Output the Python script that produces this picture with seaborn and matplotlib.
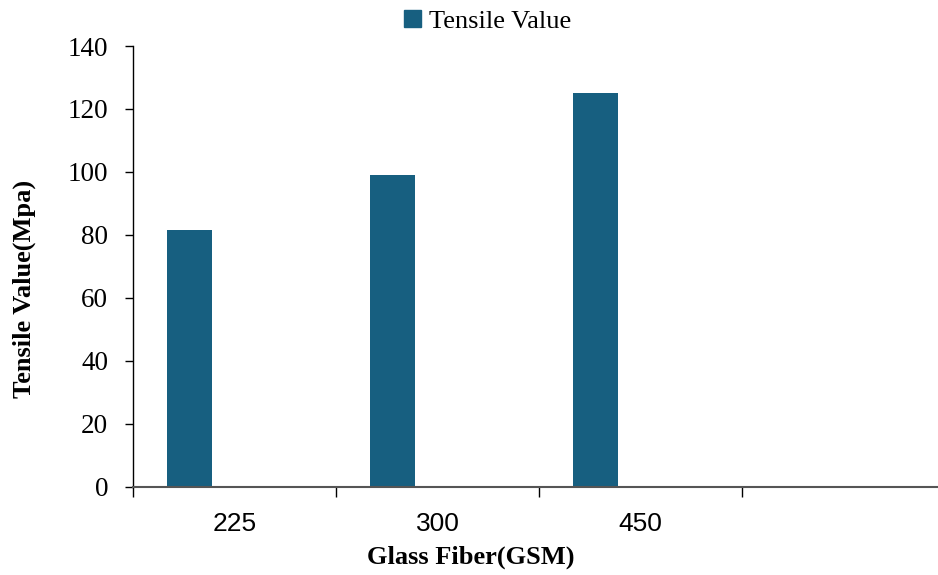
import matplotlib
matplotlib.use("Agg")
import matplotlib.pyplot as plt
import matplotlib.patches as mpatches
from matplotlib.ticker import FixedLocator, NullFormatter
import seaborn as sns
import pandas as pd

# ---- data ----
categories = ["225", "300", "450"]
tensile_values = [81.5, 99.0, 125.0]
series_name = "Tensile Value"
# Excel-style cluster slots: only the first series carries data
series_order = [series_name, "_empty1", "_empty2"]
y_ticks = [0, 20, 40, 60, 80, 100, 120, 140]

bar_color = "#175f80"

sns.set_theme(style="white")
plt.rcParams["font.family"] = ["Liberation Serif", "DejaVu Serif"]
plt.rcParams["text.color"] = "black"
plt.rcParams["axes.labelcolor"] = "black"
plt.rcParams["xtick.color"] = "black"
plt.rcParams["ytick.color"] = "black"

df = pd.DataFrame({
    "Glass Fiber(GSM)": categories,
    "Tensile Value(Mpa)": tensile_values,
    "Series": [series_name] * len(categories),
})

fig = plt.figure(figsize=(9.38, 5.75), dpi=100)
ax = fig.add_axes([0.1421, 0.1536, 0.857, 0.7664])

sns.barplot(
    data=df, x="Glass Fiber(GSM)", y="Tensile Value(Mpa)", hue="Series",
    order=categories, hue_order=series_order,
    palette=[bar_color] * len(series_order), saturation=1,
    width=0.665, dodge=True, gap=0, legend=False, ax=ax, linewidth=0,
    errorbar=None,
)

ax.set_ylim(0, 140)
ax.set_yticks(y_ticks)
ax.set_xlim(-0.5, 3.46)

# spines
for s in ["top", "right"]:
    ax.spines[s].set_visible(False)
ax.spines["left"].set_color("#000000")
ax.spines["left"].set_linewidth(1.0)
ax.spines["bottom"].set_color("#555555")
ax.spines["bottom"].set_linewidth(1.5)

# y ticks
ax.tick_params(axis="y", which="major", direction="out", length=6, width=1,
               color="#000000", pad=12, labelsize=19.5, left=True)
for lab in ax.get_yticklabels():
    lab.set_fontfamily(["Liberation Serif"])

# x ticks: labels at slot centers, tick marks at slot boundaries
ax.set_xticks(range(len(categories)))
ax.set_xticklabels(categories)
ax.xaxis.set_minor_locator(FixedLocator([-0.5, 0.5, 1.5, 2.5]))
ax.xaxis.set_minor_formatter(NullFormatter())
ax.tick_params(axis="x", which="major", length=0, pad=18, labelsize=19, bottom=True)
ax.tick_params(axis="x", which="minor", direction="out", length=7, width=1,
               color="#000000", bottom=True)
for lab in ax.get_xticklabels():
    lab.set_fontfamily(["Liberation Sans", "DejaVu Sans"])

# axis labels
ax.set_xlabel("Glass Fiber(GSM)", fontsize=19, fontweight="bold",
              fontfamily=["Liberation Serif"])
ax.xaxis.set_label_coords(0.42, -0.133)
ax.set_ylabel("Tensile Value(Mpa)", fontsize=19, fontweight="bold",
              fontfamily=["Liberation Serif"])
ax.yaxis.set_label_coords(-0.121, 0.448)

# legend
handle = mpatches.Patch(color=bar_color, label=series_name)
fig.legend(handles=[handle], loc="center", bbox_to_anchor=(0.52, 0.963),
           frameon=False, handlelength=0.65, handleheight=0.65,
           handletextpad=0.3, borderaxespad=0,
           prop={"family": "Liberation Serif", "size": 19})

fig.savefig("out.png", dpi=100)
